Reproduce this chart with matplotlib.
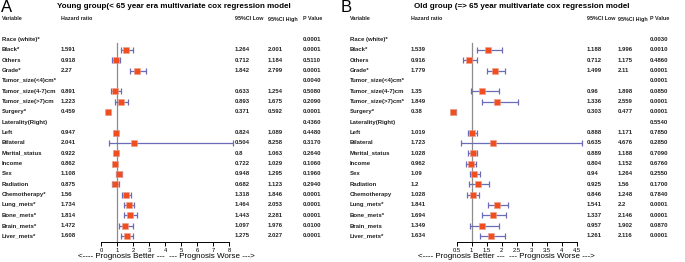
import numpy as np
import matplotlib.pyplot as plt
from matplotlib.transforms import blended_transform_factory

plt.rcParams['font.family'] = ['Liberation Sans', 'DejaVu Sans']

variables_a = ["Race (white)*", "Black*", "Others", "Grade*", "Tumor_size(<4)cm*",
               "Tumor_size(4-7)cm", "Tumor_size(>7)cm", "Surgery*", "Laterality(Right)",
               "Left", "Bilateral", "Marital_status", "Income", "Sex", "Radiation",
               "Chemotherapy*", "Lung_mets*", "Bone_mets*", "Brain_mets*", "Liver_mets*"]
hr_a = [None, 1.591, 0.918, 2.27, None, 0.891, 1.223, 0.459, None, 0.947, 2.041,
        0.922, 0.862, 1.108, 0.875, 1.56, 1.734, 1.814, 1.472, 1.608]
low_a = [None, 1.264, 0.712, 1.842, None, 0.633, 0.893, 0.371, None, 0.824, 0.504,
         0.8, 0.722, 0.948, 0.682, 1.318, 1.464, 1.443, 1.097, 1.275]
high_a = [None, 2.001, 1.184, 2.799, None, 1.254, 1.675, 0.592, None, 1.089, 8.258,
          1.063, 1.029, 1.295, 1.123, 1.846, 2.053, 2.281, 1.976, 2.027]
p_a = ["0.0001", "0.0001", "0.5110", "0.0001", "0.0040", "0.5080", "0.2090", "0.0001",
       "0.4360", "0.4480", "0.3170", "0.2640", "0.1060", "0.1960", "0.2940", "0.0001",
       "0.0001", "0.0001", "0.0100", "0.0001"]

variables_b = ["Race (white)*", "Black*", "Others", "Grade*", "Tumor_size(<4)cm*",
               "Tumor_size(4-7)cm", "Tumor_size(>7)cm*", "Surgery*", "Laterality(Right)",
               "Left", "Bilateral", "Marital_status", "Income", "Sex", "Radiation",
               "Chemotherapy", "Lung_mets*", "Bone_mets*", "Brain_mets", "Liver_mets*"]
hr_b = [None, 1.539, 0.916, 1.779, None, 1.35, 1.849, 0.38, None, 1.019, 1.723,
        1.028, 0.962, 1.09, 1.2, 1.028, 1.841, 1.694, 1.349, 1.634]
low_b = [None, 1.188, 0.712, 1.499, None, 0.96, 1.336, 0.303, None, 0.888, 0.635,
         0.889, 0.804, 0.94, 0.925, 0.846, 1.541, 1.337, 0.957, 1.261]
high_b = [None, 1.996, 1.175, 2.11, None, 1.898, 2.559, 0.477, None, 1.171, 4.676,
          1.188, 1.152, 1.264, 1.56, 1.248, 2.2, 2.146, 1.902, 2.116]
p_b = ["0.0030", "0.0010", "0.4860", "0.0001", "0.0001", "0.0850", "0.0001", "0.0001",
       "0.5540", "0.7850", "0.2850", "0.7090", "0.6760", "0.2550", "0.1700", "0.7840",
       "0.0001", "0.0001", "0.0870", "0.0001"]

W, H = 685, 262
fig = plt.figure(figsize=(W / 100, H / 100), dpi=100)

ROW0, ROWSTEP = 39.5, 10.34   # pixel y of first row and spacing
AX_TOP, AX_BOT = 35, 242
sq_color = '#F04E1E'
ci_color = '#6B6BB8'
fs = 4.3
fs_head = 3.9


def fx(px):
    return px / W


def fy(py):
    return 1 - py / H


def panel(letter, title, title_x, x0, vars_, hr, low, high, p, ax_left, ax_right,
          xlim, ticks, ticklabels, cols, arrow_x):
    fig.text(fx(x0 + 1), fy(8), letter, fontsize=12, va='center', ha='left')
    fig.text(fx(title_x), fy(7), title, fontsize=5.8, fontweight='bold', va='center')
    hx, hrx, lx, hix, px = cols
    for xx, lab in [(hx, "Variable"), (hrx, "Hazard ratio"), (lx, "95%CI Low"),
                    (hix, "95%CI High"), (px, "P Value")]:
        fig.text(fx(xx), fy(19), lab, fontsize=fs_head, fontweight='bold',
                 va='center', color='#222222')

    ax = fig.add_axes([fx(ax_left), fy(AX_BOT), fx(ax_right - ax_left),
                       (AX_BOT - AX_TOP) / H])
    ymin = (AX_BOT - ROW0) / ROWSTEP
    ymax = (AX_TOP - ROW0) / ROWSTEP
    ax.set_ylim(ymin, ymax)
    ax.set_xlim(*xlim)
    ref_top = (43 - ROW0) / ROWSTEP
    ax.plot([1, 1], [ref_top, ymin], color='#8c8c8c', lw=0.9, zorder=1)
    tr = blended_transform_factory(fig.transFigure, ax.transData)
    kw = dict(transform=tr, fontsize=fs, fontweight='bold', va='center', color='#222222')
    for i, name in enumerate(vars_):
        fig.text(fx(hx), i, name, **kw)
        fig.text(fx(px), i, p[i], **kw)
        if hr[i] is None:
            continue
        fig.text(fx(hrx), i, f"{hr[i]:g}", **kw)
        fig.text(fx(lx), i, f"{low[i]:g}", **kw)
        fig.text(fx(hix), i, f"{high[i]:g}", **kw)
        ax.errorbar(hr[i], i, xerr=[[hr[i] - low[i]], [high[i] - hr[i]]], fmt='none',
                    ecolor=ci_color, elinewidth=0.9, capsize=2, capthick=0.9, zorder=2)
        ax.plot(hr[i], i, marker='s', ms=4.2, color=sq_color, mec='#E8A090', mew=0.4,
                zorder=3, ls='none')
    for s in ['top', 'right', 'left']:
        ax.spines[s].set_visible(False)
    ax.spines['bottom'].set_bounds(ticks[0], ticks[-1])
    ax.spines['bottom'].set_linewidth(0.7)
    ax.set_yticks([])
    ax.set_xticks(ticks)
    ax.set_xticklabels(ticklabels)
    ax.tick_params(axis='x', labelsize=4.2, length=3, width=0.7, pad=1)
    ax.patch.set_alpha(0)
    fig.text(fx(arrow_x), fy(257), "<---- Prognosis Better ---  --- Prognosis Worse --->",
             fontsize=5.8, ha='center', va='center')


# panel A: 0 -> px 101, 16 px per unit
xa0, xa1 = 94, 240
panel("A", "Young group(< 65 year era multivariate cox regression model", 57, 0,
      variables_a, hr_a, low_a, high_a, p_a, xa0, xa1,
      ((xa0 - 101) / 16, (xa1 - 101) / 16), list(range(9)),
      [str(t) for t in range(9)], (2, 61, 235, 268, 303), 166)

# panel B: 0.5 -> px 456.7, 30 px per unit
xb0, xb1 = 440, 590
tb = [0.5, 1, 1.5, 2, 2.5, 3, 3.5, 4, 4.5]
panel("B", "Old group (=> 65 year multivariate cox regression model", 414, 340,
      variables_b, hr_b, low_b, high_b, p_b, xb0, xb1,
      (0.5 + (xb0 - 456.7) / 30, 0.5 + (xb1 - 456.7) / 30), tb,
      [f"{t:g}" for t in tb], (350, 411, 587, 618, 650), 506)

fig.savefig("out.png", dpi=100)
